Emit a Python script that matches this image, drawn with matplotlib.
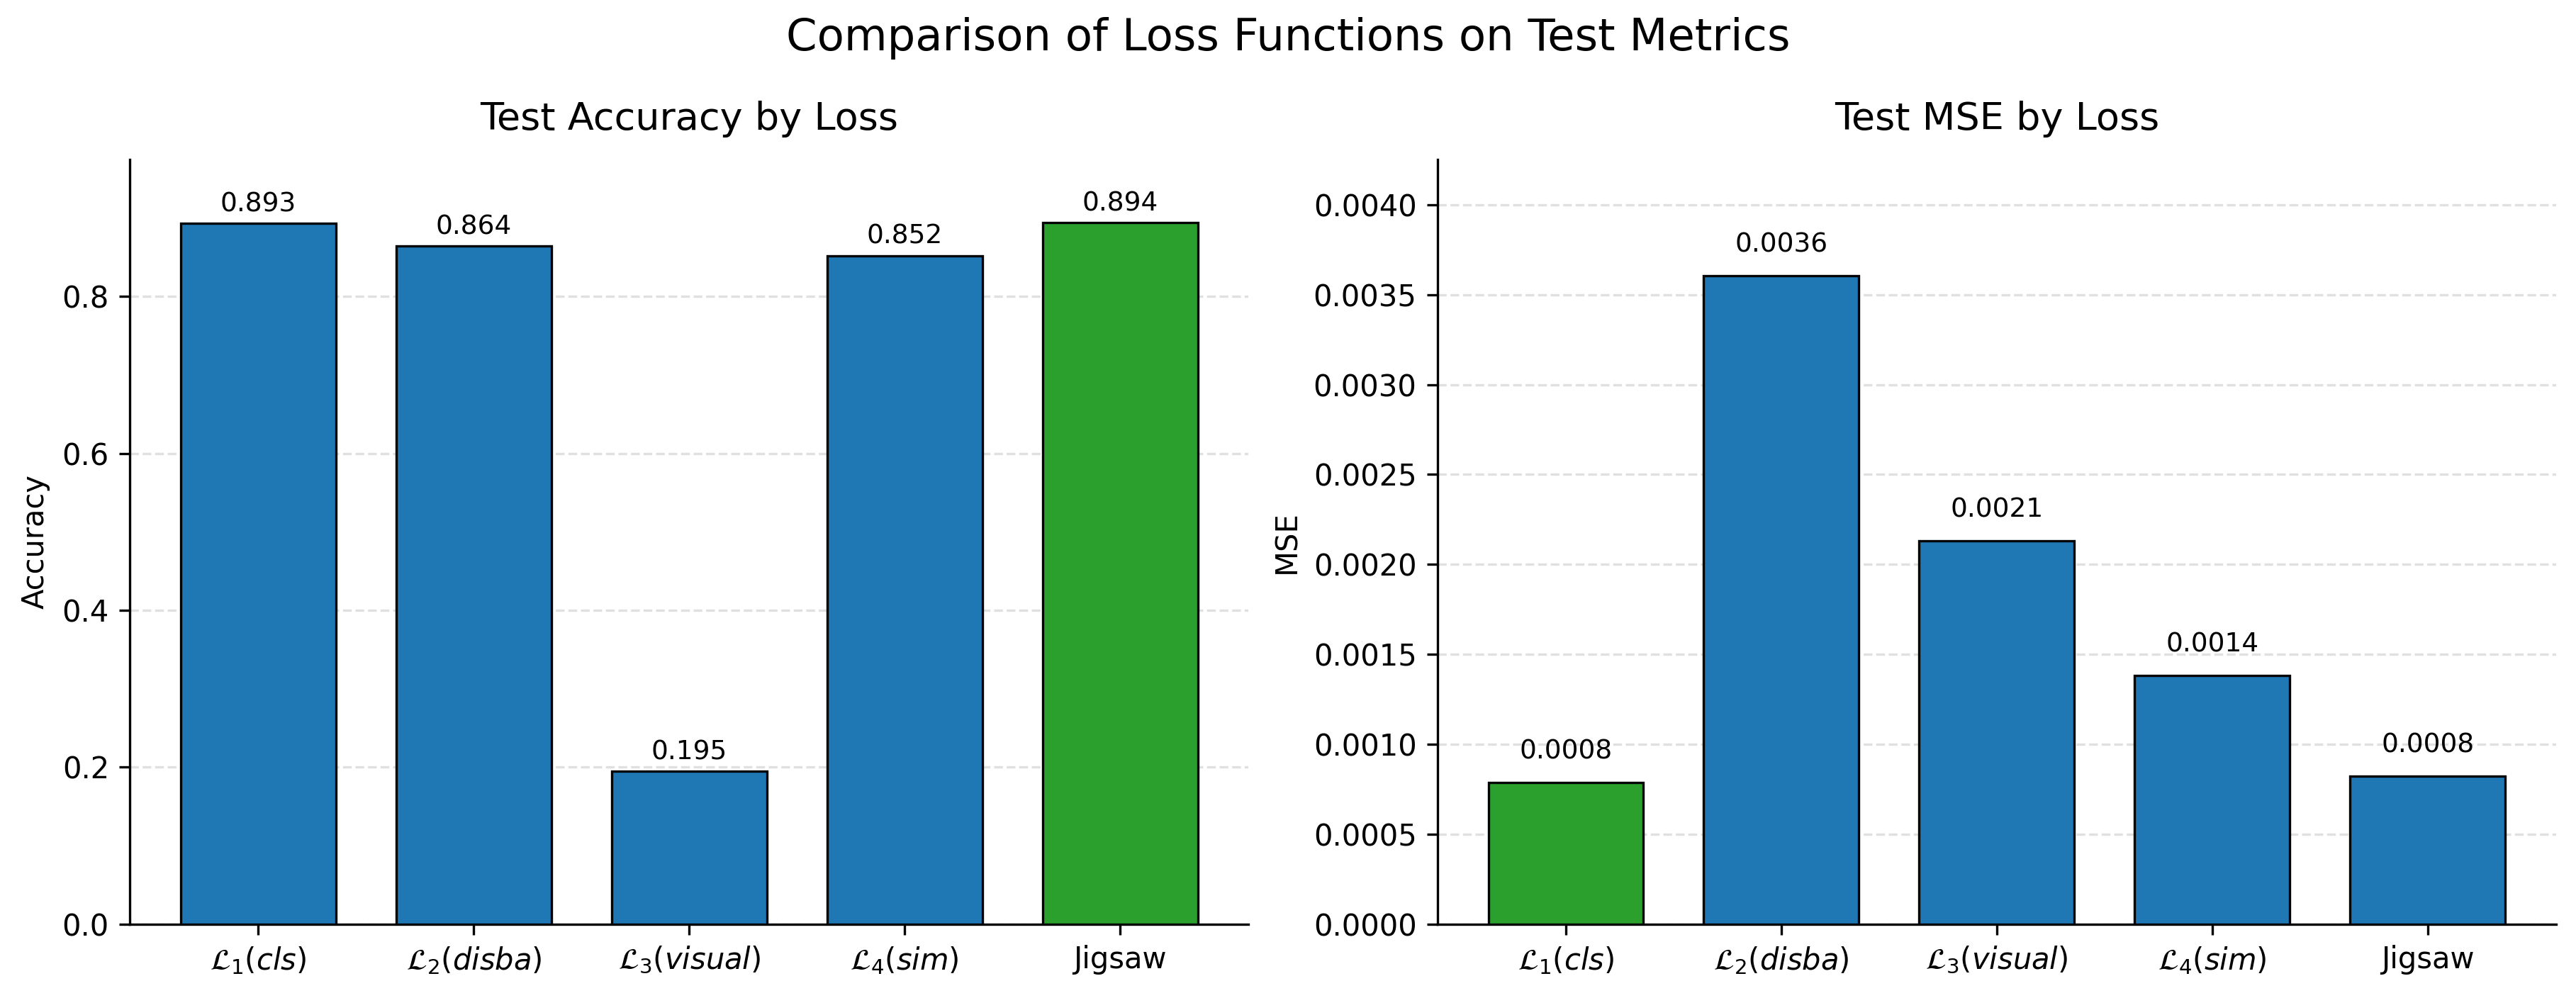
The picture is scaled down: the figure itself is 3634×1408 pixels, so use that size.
import matplotlib.pyplot as plt

# data
loss_labels = [r"$\mathcal{L}_1(cls)$", r"$\mathcal{L}_2(disba)$",
               r"$\mathcal{L}_3(visual)$", r"$\mathcal{L}_4(sim)$", "Jigsaw"]
test_accuracy = [0.893, 0.864, 0.195, 0.852, 0.894]
test_mse = [0.000787, 0.003606, 0.002133, 0.001382, 0.000824]
acc_text = ["0.893", "0.864", "0.195", "0.852", "0.894"]
mse_text = ["0.0008", "0.0036", "0.0021", "0.0014", "0.0008"]

BLUE = "#1f77b4"
GREEN = "#2ca02c"

fig = plt.figure(figsize=(3634 / 300, 1408 / 300), dpi=300)
ax1 = fig.add_axes([0.0504, 0.074, 0.4343, 0.7665])
ax2 = fig.add_axes([0.558, 0.074, 0.4343, 0.7665])


def draw(ax, values, texts, best, ylim, offset, title, ylabel):
    x = range(len(values))
    colors = [GREEN if i == best else BLUE for i in x]
    ax.bar(x, values, width=0.72, color=colors, edgecolor="black", linewidth=0.8, zorder=3)
    for i, (v, t) in enumerate(zip(values, texts)):
        ax.text(i, v + offset, t, ha="center", va="bottom", fontsize=9)
    ax.set_xticks(list(x))
    ax.set_xticklabels(loss_labels, fontsize=10)
    ax.tick_params(axis="y", labelsize=10)
    ax.set_ylim(0, ylim)
    ax.set_title(title, fontsize=13, pad=10)
    ax.set_ylabel(ylabel, fontsize=10)
    ax.grid(axis="y", linestyle="--", color="#cccccc", alpha=0.6, linewidth=0.8, zorder=0)
    ax.set_axisbelow(True)
    ax.spines["top"].set_visible(False)
    ax.spines["right"].set_visible(False)


best_acc = test_accuracy.index(max(test_accuracy))
best_mse = test_mse.index(min(test_mse))

draw(ax1, test_accuracy, acc_text, best_acc, 0.975, 0.008,
     "Test Accuracy by Loss", "Accuracy")
draw(ax2, test_mse, mse_text, best_mse, 0.004253, 0.0001,
     "Test MSE by Loss", "MSE")

fig.suptitle("Comparison of Loss Functions on Test Metrics", fontsize=15, y=0.962, va="center")

fig.savefig("out.png", dpi=300)
plt.close(fig)
